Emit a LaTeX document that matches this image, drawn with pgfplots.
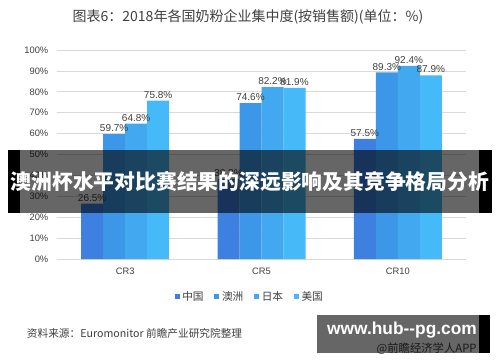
\documentclass[border=0pt]{standalone}
\usepackage{pgfplots}
\pgfplotsset{compat=1.18}
\usepackage{fontspec}
\setmainfont{Liberation Sans}
\newfontfamily\cjk{Noto Sans CJK SC}
\definecolor{cChina}{HTML}{3E80DF}
\definecolor{cAus}{HTML}{3D97E8}
\definecolor{cJap}{HTML}{42A8F0}
\definecolor{cUSA}{HTML}{46BAF8}
\definecolor{txt}{HTML}{404040}
\definecolor{gridc}{HTML}{D9D9D9}
\begin{document}
\begin{tikzpicture}
\useasboundingbox[fill=white] (0,0) rectangle (375pt,-271.5pt);
% title
\node[font=\cjk\fontsize{10.5}{12}\selectfont, text=txt] at (186pt,-12.75pt) {图表6：2018年各国奶粉企业集中度(按销售额)(单位：\%)};
\begin{axis}[
  at={(42.75pt,-194.25pt)}, anchor=south west,
  scale only axis, width=306.75pt, height=156.75pt,
  ybar=0pt, bar width=16.5pt,
  xmin=-0.5, xmax=2.5, ymin=0, ymax=100,
  xtick={0,1,2}, xticklabels={CR3,CR5,CR10},
  ytick={0,10,...,100},
  yticklabel={\pgfmathprintnumber{\tick}\%},
  /pgf/number format/assume math mode=true,
  ticklabel style={font=\fontsize{7}{8}\selectfont, text=txt},
  xticklabel style={yshift=-3pt},
  yticklabel style={xshift=-3pt},
  major tick length=0pt,
  axis y line*=left,
  y axis line style={draw=none},
  axis x line*=bottom,
  x axis line style={draw=gridc,-},
  ymajorgrids, grid style={draw=gridc, line width=0.6pt},
  nodes near coords={\pgfmathprintnumber[fixed,fixed zerofill,precision=1]{\pgfplotspointmeta}\%},
  nodes near coords style={font=\fontsize{7.5}{9}\selectfont, text=txt, inner sep=1.5pt},
  every axis plot/.append style={draw=none},
  legend columns=4,
  legend style={at={(0.472,-0.182)}, anchor=center, draw=none, fill=none,
    font=\cjk\fontsize{8}{9}\selectfont, text=txt,
    /tikz/every even column/.append style={column sep=6pt}},
  legend image code/.code={\fill[#1] (0pt,-1.8pt) rectangle (3.8pt,2pt);},
]
\addplot[fill=cChina] coordinates {(0,26.5) (1,38.3) (2,57.5)};
\addplot[fill=cAus] coordinates {(0,59.7) (1,74.6) (2,89.3)};
\addplot[fill=cJap] coordinates {(0,64.8) (1,82.2) (2,92.4)};
\addplot[fill=cUSA] coordinates {(0,75.8) (1,81.9) (2,87.9)};
\legend{中国,澳洲,日本,美国}
\end{axis}
% banner
\fill[black] (6pt,-112.5pt) rectangle (15pt,-159.75pt);
\fill[black] (359.25pt,-112.5pt) rectangle (369pt,-159.75pt);
\fill[black, opacity=0.6] (15pt,-112.5pt) rectangle (359.25pt,-159.75pt);
\node[font=\cjk\bfseries\fontsize{15.6}{18}\selectfont, text=white, inner sep=0pt] at (187.5pt,-135.75pt) {澳洲杯水平对比赛结果的深远影响及其竞争格局分析};
% source
\node[font=\cjk\fontsize{8}{9}\selectfont, text=txt, anchor=west, inner sep=0pt] at (20pt,-249.75pt) {资料来源：Euromonitor 前瞻产业研究院整理};
% watermark
\node[font=\cjk\fontsize{8.5}{9}\selectfont, text=txt, inner sep=0pt] at (320pt,-261.5pt) {@前瞻经济学人APP};
\fill[black, opacity=0.6] (237.75pt,-236.25pt) rectangle (359.25pt,-264.75pt);
\fill[black] (359.25pt,-236.25pt) rectangle (367.5pt,-264.75pt);
\node[font=\bfseries\fontsize{13}{15}\selectfont, text=white, inner sep=0pt] at (301.5pt,-247.5pt) {www.hub{-}{-}pg.com};
\end{tikzpicture}
\end{document}
